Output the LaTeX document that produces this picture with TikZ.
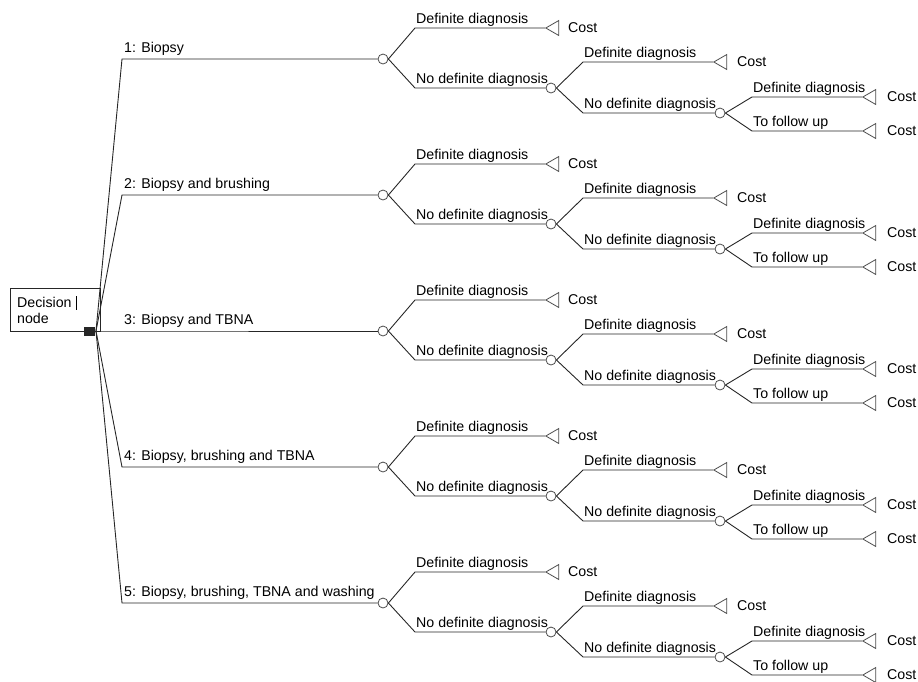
\documentclass[tikz,border=0pt]{standalone}
\usepackage{fontspec}
\setmainfont{Liberation Sans}
\usetikzlibrary{shapes.geometric}
\begin{document}
\begin{tikzpicture}[x=1pt,y=-1pt,
  ln/.style={draw=black!85, line width=0.9pt},
  chance/.style={circle, draw=black!70, line width=0.8pt, fill=white, minimum size=10pt, inner sep=0pt},
  term/.style={isosceles triangle, isosceles triangle apex angle=60, shape border rotate=180, draw=black!70, line width=0.8pt, inner sep=0pt, minimum height=13pt, anchor=apex},
  lbl/.style={anchor=base west, inner sep=0pt, font=\fontsize{14.2}{16}\selectfont},
]
\useasboundingbox (0,0) rectangle (918,681);
% decision node
\node[draw=black!85, line width=0.9pt, anchor=north west, minimum width=90pt, minimum height=43pt, inner sep=0pt] (dbox) at (10,288) {};
\node[lbl] (dtxt1) at (17,307) {Decision};
\node[lbl] (dtxt2) at (17,323) {node};
\draw[black, line width=0.7pt] (76,296) -- (76,310);
\node[fill=black!85, minimum width=11pt, minimum height=9pt, inner sep=0pt] (dec) at (89,331) {};
\coordinate (hub) at (96,331);
\foreach \i/\Y/\t in {1/59/{1: Biopsy}, 2/195/{2: Biopsy and brushing}, 3/331/{3: Biopsy and TBNA}, 4/467/{4: Biopsy, brushing and TBNA}, 5/603/{5: Biopsy, brushing, TBNA and washing}}{
  \coordinate (b\i) at (122,\Y);
  \node[chance] (c\i) at (383,\Y) {};
  \draw[ln] (hub) -- (b\i) -- (c\i);
  \node[lbl] (bl\i) at (124,\Y-6.5) {\t};
  % first chance node
  \coordinate (u\i) at (415,\Y-31);
  \node[term] (ta\i) at (545,\Y-31) {};
  \draw[ln] (c\i.east) -- (u\i) -- (ta\i.apex);
  \node[lbl] (ua\i) at (416,\Y-36) {Definite diagnosis};
  \node[lbl] (ca\i) at (568,\Y-26.5) {Cost};
  \coordinate (l\i) at (415,\Y+29);
  \node[chance] (d\i) at (551,\Y+29) {};
  \draw[ln] (c\i.east) -- (l\i) -- (d\i.west);
  \node[lbl] (la\i) at (416,\Y+24) {No definite diagnosis};
  % second chance node
  \coordinate (v\i) at (583,\Y+3);
  \node[term] (tb\i) at (713,\Y+3) {};
  \draw[ln] (d\i.east) -- (v\i) -- (tb\i.apex);
  \node[lbl] (ub\i) at (584,\Y-2) {Definite diagnosis};
  \node[lbl] (cb\i) at (737,\Y+7.5) {Cost};
  \coordinate (m\i) at (583,\Y+54);
  \node[chance] (e\i) at (720,\Y+54) {};
  \draw[ln] (d\i.east) -- (m\i) -- (e\i.west);
  \node[lbl] (lb\i) at (584,\Y+49) {No definite diagnosis};
  % third chance node
  \coordinate (w\i) at (752,\Y+38);
  \node[term] (tc\i) at (862,\Y+38) {};
  \draw[ln] (e\i.east) -- (w\i) -- (tc\i.apex);
  \node[lbl] (uc\i) at (753,\Y+33) {Definite diagnosis};
  \node[lbl] (cc\i) at (887,\Y+42.5) {Cost};
  \coordinate (n\i) at (752,\Y+72);
  \node[term] (td\i) at (862,\Y+72) {};
  \draw[ln] (e\i.east) -- (n\i) -- (td\i.apex);
  \node[lbl] (lc\i) at (753,\Y+67) {To follow up};
  \node[lbl] (cd\i) at (887,\Y+76.5) {Cost};
}
\end{tikzpicture}
\end{document}
